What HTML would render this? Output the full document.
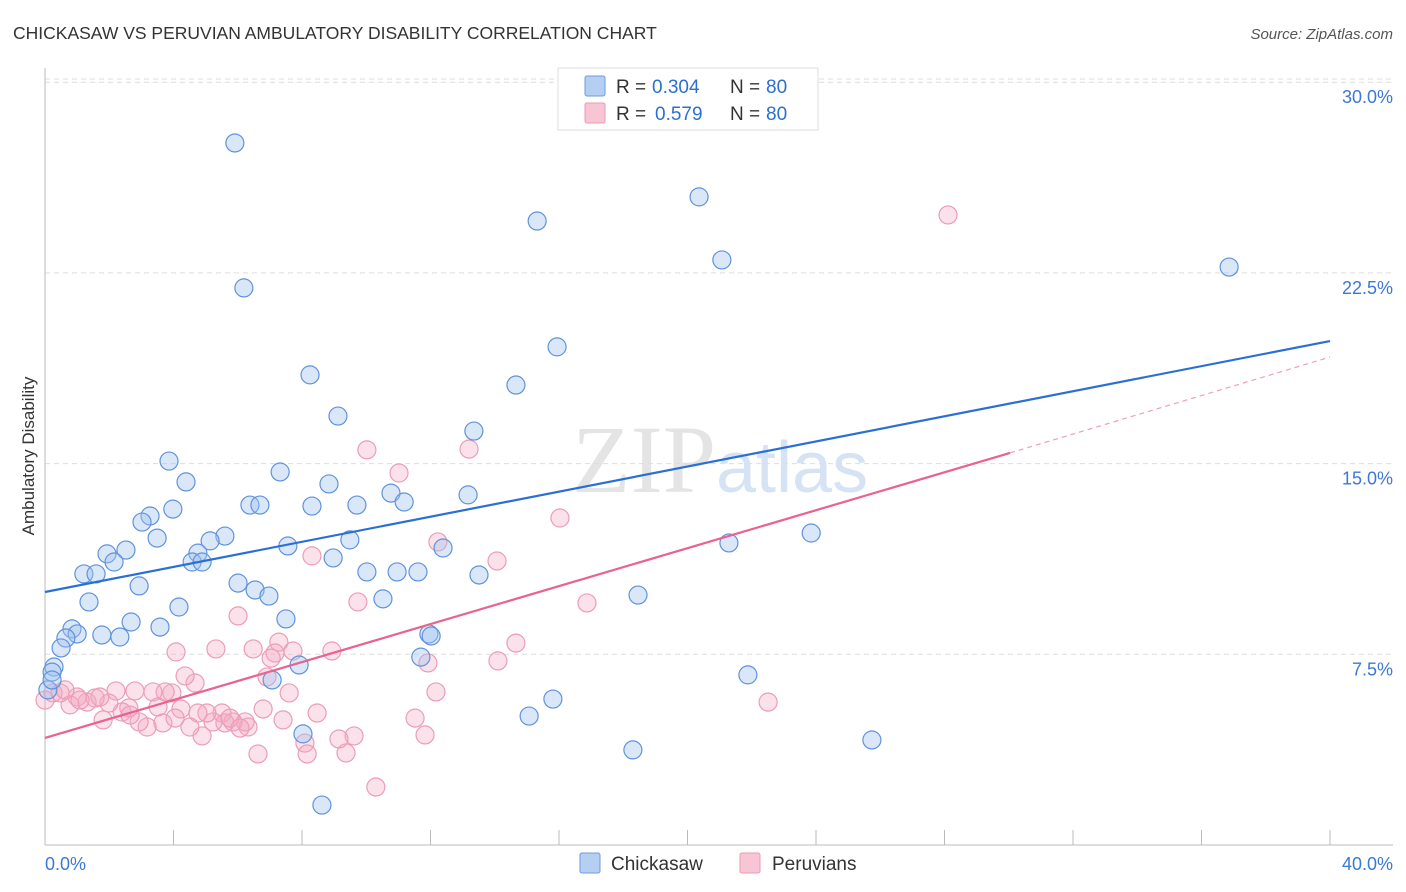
<!DOCTYPE html>
<html><head><meta charset="utf-8"><style>
body{margin:0;background:#fff;font-family:"Liberation Sans",sans-serif}
svg{display:block}
</style></head><body>
<svg width="1406" height="892" id="chart">
<text x="13" y="39" font-size="17.5" fill="#333">CHICKASAW VS PERUVIAN AMBULATORY DISABILITY CORRELATION CHART</text>
<text x="1393" y="39" font-size="15" fill="#555" font-style="italic" text-anchor="end">Source: ZipAtlas.com</text>
<text x="0" y="0" transform="translate(34,456) rotate(-90)" font-size="17" fill="#333" text-anchor="middle">Ambulatory Disability</text>
<text x="716" y="492" font-size="96" fill="#e4e4e4" text-anchor="end" font-family="Liberation Serif">ZIP</text>
<text x="716" y="492" font-size="72" fill="#d6e3f4">atlas</text>
<g id="grid"></g><g id="pts"></g><g id="lines"></g>
<g>
<rect x="558" y="68" width="260" height="62" fill="#fff" stroke="#ddd"/>
<rect x="585" y="76" width="20" height="20" fill="#b5cff3" stroke="#6d9be0" rx="2"/>
<rect x="585" y="103" width="20" height="20" fill="#f8c5d5" stroke="#eb9ab3" rx="2"/>
<text x="616" y="93" font-size="19" fill="#333">R =</text>
<text x="652" y="93" font-size="19" fill="#2c6fd1">0.304</text>
<text x="730" y="93" font-size="19" fill="#333">N =</text>
<text x="766" y="93" font-size="19" fill="#2c6fd1">80</text>
<text x="616" y="120" font-size="19" fill="#333">R =</text>
<text x="655" y="120" font-size="19" fill="#2c6fd1">0.579</text>
<text x="730" y="120" font-size="19" fill="#333">N =</text>
<text x="766" y="120" font-size="19" fill="#2c6fd1">80</text>
</g>
<g>
<rect x="580" y="853" width="20" height="20" fill="#b5cff3" stroke="#6d9be0" rx="2"/>
<text x="611" y="870" font-size="19" fill="#333">Chickasaw</text>
<rect x="740" y="853" width="20" height="20" fill="#f8c5d5" stroke="#eb9ab3" rx="2"/>
<text x="772" y="870" font-size="19" fill="#333">Peruvians</text>
</g>
</svg>
<script>
const yTicks=[7.5,15,22.5,30];
const xTickLabels=["0.0%","40.0%"];
const blueX=[5.91,6.19,8.25,9.12,3.86,4.39,7.32,6.38,6.69,8.31,3.98,3.27,3.02,3.49,5.60,5.14,2.52,1.93,2.15,4.76,4.58,4.89,7.56,8.97,8.84,9.71,10.77,11.18,9.49,12.39,10.02,10.96,11.61,13.51,13.35,13.17,14.66,15.94,15.32,20.36,21.07,36.86,16.87,1.21,1.59,2.93,6.01,6.54,6.97,1.37,4.17,10.52,2.68,3.58,7.50,0.84,1.00,1.77,2.33,0.65,0.50,11.95,12.02,0.28,0.22,7.91,11.70,7.07,21.88,15.81,15.07,18.30,25.74,8.62,18.46,21.29,23.85,8.03,0.09,0.22];
const blueY=[27.61,21.91,18.49,16.87,15.10,14.28,14.67,13.37,13.37,13.33,13.21,12.94,12.70,12.07,12.15,11.96,11.60,11.45,11.13,11.48,11.13,11.13,11.76,11.29,14.20,13.37,13.84,13.49,12.00,11.68,10.74,10.74,10.74,10.62,16.28,13.77,18.09,19.59,24.54,25.49,23.01,22.73,29.73,10.66,10.66,10.19,10.30,10.03,9.79,9.56,9.36,9.68,8.77,8.57,8.89,8.50,8.30,8.26,8.18,8.14,7.75,8.30,8.22,7.00,6.80,7.08,7.39,6.49,6.69,5.74,5.07,3.74,4.13,1.57,9.83,11.88,12.27,4.37,6.10,6.49];
const pinkX=[9.74,6.01,4.08,5.32,6.48,7.28,7.16,7.04,7.72,8.93,11.92,12.17,11.52,11.83,10.30,9.62,9.37,9.15,8.47,8.09,8.16,7.41,7.60,6.91,6.79,6.63,6.32,6.23,5.85,5.51,5.60,5.23,5.04,4.89,4.76,4.51,4.23,4.67,4.36,3.95,3.74,3.36,3.52,3.67,3.18,2.93,2.80,2.21,2.61,2.40,1.81,1.99,1.56,1.31,1.00,0.78,0.47,0.25,10.02,11.02,13.20,16.03,16.87,14.07,14.66,14.10,22.51,28.11,8.31,12.23,0.62,1.09,0.00,1.71,2.65,4.05,5.76,6.07];
const pinkY=[9.56,9.01,7.59,7.71,7.71,7.98,7.55,7.35,7.63,7.63,7.16,6.02,4.99,4.33,2.28,4.29,3.62,4.17,5.19,4.01,3.58,4.92,5.98,6.61,5.35,3.58,4.64,4.84,4.84,5.19,4.80,4.84,5.19,4.29,5.19,4.64,5.35,6.37,6.65,5.98,6.02,6.02,5.43,4.80,4.64,4.84,6.06,6.06,5.39,5.23,4.92,5.58,5.78,5.62,5.82,5.51,5.98,5.98,15.54,14.63,15.57,12.86,9.52,11.17,7.94,7.24,5.62,24.78,11.37,11.92,6.10,5.70,5.70,5.82,5.11,4.99,4.99,4.60];
const blueLine=[[0,9.95],[40,19.82]];
const pinkSolid=[[0,4.21],[30.04,15.42]];
const pinkDash=[[30.04,15.42],[40,19.19]];
const NS="http://www.w3.org/2000/svg";
const xs=v=>45+v/40*1285, ys=v=>845-v/7.5*190.7;
function mk(t,a,p){const e=document.createElementNS(NS,t);for(const k in a)e.setAttribute(k,a[k]);p.appendChild(e);return e;}
const grid=document.getElementById('grid');
yTicks.forEach(t=>{
 const l=mk('line',{x1:45,x2:1393,y1:ys(t),y2:ys(t),stroke:'#ddd','stroke-dasharray':'5,4'},grid);
 
 
 const tx=mk('text',{x:1393,y:ys(t)+21,'font-size':18,fill:'#3b78d8','text-anchor':'end'},grid);
 tx.textContent=t.toFixed(1)+'%';
 
 
});
mk('line',{x1:45,x2:1393,y1:79,y2:79,stroke:'#ddd','stroke-dasharray':'5,4'},grid);
mk('line',{x1:45,x2:45,y1:68,y2:845,stroke:'#bbb'},grid);
mk('line',{x1:45,x2:1393,y1:845,y2:845,stroke:'#bbb'},grid);
for(let i=0;i<=10;i++){const t=mk('line',{x1:xs(i*4),x2:xs(i*4),y1:830,y2:845,stroke:'#bbb'},grid);
 
 }
const l0=mk('text',{x:45,y:870,'font-size':18,fill:'#3b78d8'},grid);l0.textContent=xTickLabels[0];


const l1=mk('text',{x:1393,y:870,'font-size':18,fill:'#3b78d8','text-anchor':'end'},grid);l1.textContent=xTickLabels[1];


const pts=document.getElementById('pts');
pinkX.forEach((x,i)=>{const c=mk('circle',{cx:xs(x),cy:ys(pinkY[i]),r:9,fill:'rgba(244,170,195,0.35)',stroke:'#ec9db5','stroke-width':1.2},pts);
 
 });
blueX.forEach((x,i)=>{const c=mk('circle',{cx:xs(x),cy:ys(blueY[i]),r:9,fill:'rgba(160,196,240,0.4)',stroke:'#5f93dc','stroke-width':1.2},pts);
 
 });
const lines=document.getElementById('lines');
const b=mk('line',{x1:xs(blueLine[0][0]),y1:ys(blueLine[0][1]),x2:xs(blueLine[1][0]),y2:ys(blueLine[1][1]),stroke:'#2a6fd6','stroke-width':2.2},lines);


const p=mk('line',{x1:xs(pinkSolid[0][0]),y1:ys(pinkSolid[0][1]),x2:xs(pinkSolid[1][0]),y2:ys(pinkSolid[1][1]),stroke:'#e8638e','stroke-width':2.2},lines);


const pd=mk('line',{x1:xs(pinkDash[0][0]),y1:ys(pinkDash[0][1]),x2:xs(pinkDash[1][0]),y2:ys(pinkDash[1][1]),stroke:'#eda0b8','stroke-width':1.2,'stroke-dasharray':'5,4'},lines);


</script>
</body></html>
